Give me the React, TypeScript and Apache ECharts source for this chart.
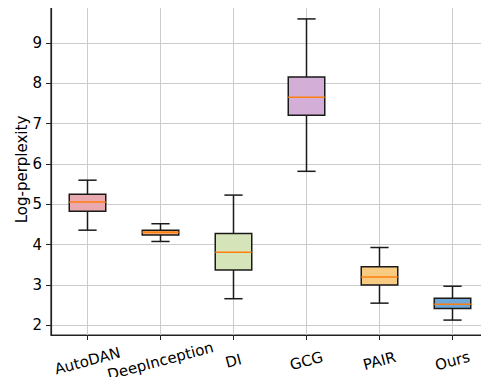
import React, { useEffect, useRef } from "react";
import * as echarts from "echarts";

const categories = ["AutoDAN", "DeepInception", "DI", "GCG", "PAIR", "Ours"];
// five-number summaries
const lowerWhisker = [4.36, 4.08, 2.66, 5.82, 2.55, 2.13];
const q1 = [4.83, 4.24, 3.37, 7.21, 3.0, 2.42];
const median = [5.06, 4.31, 3.81, 7.66, 3.2, 2.52];
const q3 = [5.25, 4.36, 4.28, 8.16, 3.45, 2.67];
const upperWhisker = [5.6, 4.52, 5.23, 9.6, 3.93, 2.97];
const boxColors = ["#e9a9ae", "#f6a96a", "#d6e4b9", "#d3aed6", "#f8cb82", "#6fa7d8"];
const yTicks = [2, 3, 4, 5, 6, 7, 8, 9];
const xTicks = [0, 1, 2, 3, 4, 5];

export default function App() {
  const ref = useRef<HTMLDivElement>(null);
  useEffect(() => {
    if (!ref.current) return;
    const chart = echarts.init(ref.current, null, { renderer: "svg" });
    const data = categories.map((_, i) => [
      i,
      lowerWhisker[i],
      q1[i],
      median[i],
      q3[i],
      upperWhisker[i],
    ]);
    const font = "DejaVu Sans";
    chart.setOption({
      animation: false,
      backgroundColor: "#ffffff",
      textStyle: { fontFamily: font },
      grid: {
        left: 51,
        top: 4,
        width: 444,
        height: 331,
        show: true,
        borderColor: "#222",
        borderWidth: 1.2,
        backgroundColor: "transparent",
      },
      xAxis: {
        type: "value",
        min: -0.5,
        max: 5.5,
        axisLine: { show: true, onZero: false, lineStyle: { color: "#222", width: 1.2 } },
        axisTick: {
          show: true,
          customValues: xTicks,
          length: 5,
          lineStyle: { color: "#222", width: 1 },
        },
        axisLabel: {
          customValues: xTicks,
          formatter: (v: number) => categories[Math.round(v)] ?? "",
          rotate: 15,
          align: "center",
          verticalAlign: "middle",
          margin: 26,
          fontSize: 15,
          color: "#000",
          fontFamily: font,
        },
        splitLine: { show: true, lineStyle: { color: "#cccccc", width: 1 } },
      },
      yAxis: {
        type: "value",
        min: 1.76,
        max: 9.97,
        name: "Log-perplexity",
        nameLocation: "middle",
        nameRotate: 90,
        nameGap: 22,
        nameMoveOverlap: false,
        nameTextStyle: { fontSize: 15, color: "#000", fontFamily: font },
        axisLine: { show: true, onZero: false, lineStyle: { color: "#222", width: 1.2 } },
        axisTick: {
          show: true,
          customValues: yTicks,
          length: 5,
          lineStyle: { color: "#222", width: 1 },
        },
        axisLabel: {
          customValues: yTicks,
          margin: 9,
          fontSize: 15,
          color: "#000",
          fontFamily: font,
        },
        splitLine: { show: true, lineStyle: { color: "#cccccc", width: 1 } },
      },
      series: [
        {
          type: "custom",
          data,
          encode: { x: 0, y: [1, 2, 3, 4, 5] },
          renderItem: (params: any, api: any) => {
            const x = api.value(0);
            const pLo = api.coord([x, api.value(1)]);
            const pQ1 = api.coord([x, api.value(2)]);
            const pMed = api.coord([x, api.value(3)]);
            const pQ3 = api.coord([x, api.value(4)]);
            const pHi = api.coord([x, api.value(5)]);
            const band = api.size([1, 0])[0];
            const bw = band * 0.5;
            const cw = band * 0.25;
            const cx = pMed[0];
            const stroke = { stroke: "#1a1a1a", lineWidth: 1.5 };
            return {
              type: "group",
              children: [
                { type: "line", shape: { x1: cx, y1: pLo[1], x2: cx, y2: pQ1[1] }, style: stroke },
                { type: "line", shape: { x1: cx, y1: pQ3[1], x2: cx, y2: pHi[1] }, style: stroke },
                { type: "line", shape: { x1: cx - cw / 2, y1: pLo[1], x2: cx + cw / 2, y2: pLo[1] }, style: stroke },
                { type: "line", shape: { x1: cx - cw / 2, y1: pHi[1], x2: cx + cw / 2, y2: pHi[1] }, style: stroke },
                {
                  type: "rect",
                  shape: { x: cx - bw / 2, y: pQ3[1], width: bw, height: pQ1[1] - pQ3[1] },
                  style: { fill: boxColors[params.dataIndex], stroke: "#1a1a1a", lineWidth: 1.5 },
                },
                {
                  type: "line",
                  shape: { x1: cx - bw / 2, y1: pMed[1], x2: cx + bw / 2, y2: pMed[1] },
                  style: { stroke: "#ff7f0e", lineWidth: 1.5 },
                },
              ],
            };
          },
        },
      ],
    });
    return () => chart.dispose();
  }, []);
  return <div ref={ref} style={{ width: 489, height: 385, margin: -8 }} />;
}
